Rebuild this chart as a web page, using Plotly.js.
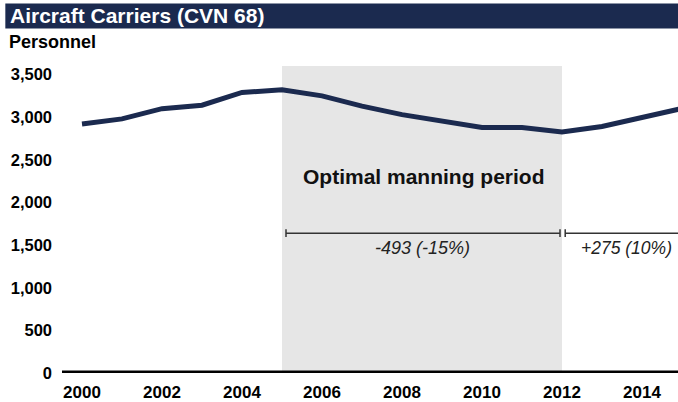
<!DOCTYPE html>
<html>
<head>
<meta charset="utf-8">
<script src="https://cdn.plot.ly/plotly-3.0.1.min.js"></script>
<style>html,body{margin:0;padding:0;background:#fff;}#chart{width:678px;height:402px;}</style>
</head>
<body>
<div id="chart"></div>
<script>
const years = [2000,2001,2002,2003,2004,2005,2006,2007,2008,2009,2010,2011,2012,2013,2014,2015];
const personnel = [2920,2980,3100,3140,3290,3320,3250,3130,3030,2950,2880,2880,2827,2890,3000,3102];
const periodStart = 2005;
const periodEnd = 2012;
const yTicks = [0,500,1000,1500,2000,2500,3000,3500];
const yTickLabels = ["0","500","1,000","1,500","2,000","2,500","3,000","3,500"];
const xTicks = [2000,2002,2004,2006,2008,2010,2012,2014];
const titleText = "Aircraft Carriers (CVN 68)";
const unitText = "Personnel";
const periodLabel = "Optimal manning period";
const declineLabel = "-493 (-15%)";
const riseLabel = "+275 (10%)";

const navy = "#1b2a4f";
const bracketY = 1640;
const bracketColor = "#333333";
const font = "Liberation Sans, Arial, sans-serif";

const trace = {
  x: years, y: personnel, type: "scatter", mode: "lines",
  line: {color: navy, width: 5}, hoverinfo: "skip"
};

const shapes = [
  {type:"rect", xref:"x", yref:"paper", x0:periodStart, x1:periodEnd, y0:0, y1:1, fillcolor:"#e6e6e6", line:{width:0}, layer:"below"},
  {type:"line", xref:"paper", yref:"y", x0:0, x1:1, y0:0, y1:0, line:{color:"#000", width:5}},
  {type:"rect", xref:"paper", yref:"paper", x0:-0.092, x1:1.0, y0:1.1225, y1:1.2035, fillcolor:navy, line:{width:0}},
  {type:"line", xref:"x", yref:"y", x0:periodStart+0.1, x1:periodEnd-0.05, y0:bracketY, y1:bracketY, line:{color:bracketColor, width:1.5}},
  {type:"line", xref:"x", yref:"y", x0:periodStart+0.1, x1:periodStart+0.1, y0:bracketY-45, y1:bracketY+45, line:{color:bracketColor, width:1.5}},
  {type:"line", xref:"x", yref:"y", x0:periodEnd-0.05, x1:periodEnd-0.05, y0:bracketY-45, y1:bracketY+45, line:{color:bracketColor, width:1.5}},
  {type:"line", xref:"x", yref:"y", x0:periodEnd+0.08, x1:2016, y0:bracketY, y1:bracketY, line:{color:bracketColor, width:1.5}},
  {type:"line", xref:"x", yref:"y", x0:periodEnd+0.08, x1:periodEnd+0.08, y0:bracketY-45, y1:bracketY+45, line:{color:bracketColor, width:1.5}}
];

const annotations = [
  {xref:"paper", yref:"paper", x:-0.088, y:1.163, xanchor:"left", yanchor:"middle", showarrow:false,
   text:"<b>"+titleText+"</b>", font:{family:font, size:21, color:"#ffffff"}},
  {xref:"paper", yref:"paper", x:-0.09, y:1.077, xanchor:"left", yanchor:"middle", showarrow:false,
   text:"<b>"+unitText+"</b>", font:{family:font, size:18, color:"#000"}},
  {xref:"x", yref:"y", x:(periodStart+periodEnd)/2+0.05, y:2310, xanchor:"center", yanchor:"middle", showarrow:false,
   text:"<b>"+periodLabel+"</b>", font:{family:font, size:21, color:"#111"}},
  {xref:"x", yref:"y", x:(periodStart+periodEnd)/2, y:1470, xanchor:"center", yanchor:"middle", showarrow:false,
   text:"<i>"+declineLabel+"</i>", font:{family:font, size:18, color:"#222"}},
  {xref:"x", yref:"y", x:2013.6, y:1470, xanchor:"center", yanchor:"middle", showarrow:false,
   text:"<i>"+riseLabel+"</i>", font:{family:font, size:17.5, color:"#222"}}
];

const layout = {
  width:678, height:402,
  margin:{l:62, r:0, t:66, b:29},
  paper_bgcolor:"#fff", plot_bgcolor:"rgba(0,0,0,0)",
  showlegend:false,
  xaxis:{range:[1999.5, 2014.9], tickvals:xTicks, ticktext:xTicks.map(String), showgrid:false, zeroline:false,
    showline:false, ticks:"", ticklabelstandoff:7, tickfont:{family:font, size:17, color:"#000", weight:"bold"}},
  yaxis:{range:[0,3600], tickvals:yTicks, ticktext:yTickLabels, showgrid:false, zeroline:false, showline:false,
    ticks:"", ticklabelstandoff:9, tickfont:{family:font, size:16.5, color:"#000", weight:"bold"}},
  shapes:shapes, annotations:annotations
};

Plotly.newPlot("chart", [trace], layout, {displayModeBar:false, staticPlot:true});
</script>
</body>
</html>
